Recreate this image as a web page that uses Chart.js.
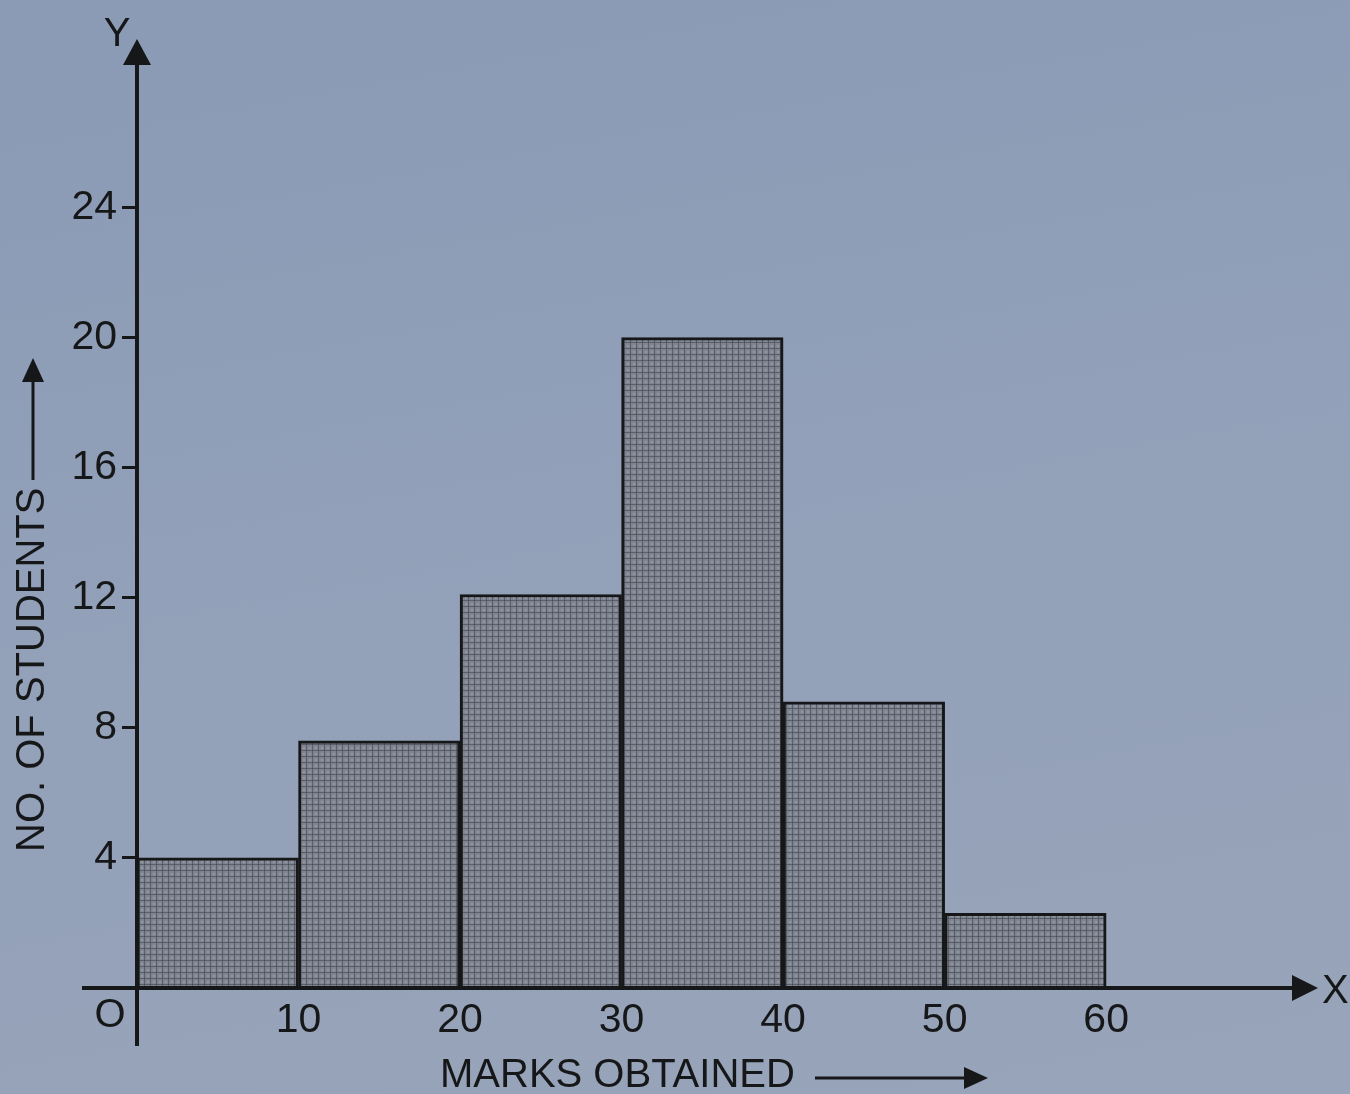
<!DOCTYPE html>
<html>
<head>
<meta charset="utf-8">
<title>Marks obtained histogram</title>
<script src="https://cdn.jsdelivr.net/npm/chart.js@4.4.1/dist/chart.umd.min.js"></script>
<style>
  html, body { margin: 0; padding: 0; }
  body {
    width: 1350px; height: 1094px; overflow: hidden;
    background: linear-gradient(170deg, #8b9ab5 0%, #93a1b9 55%, #98a4b9 100%);
  }
  #wrap { position: relative; width: 1350px; height: 1094px; }
</style>
</head>
<body>
<div id="wrap"><canvas id="hist"></canvas></div>
<script>
// class intervals 0-10 ... 50-60
var classMids = [5, 15, 25, 35, 45, 55];
var students = [4, 7.6, 12.1, 20, 8.8, 2.3];
var xTickLabels = [10, 20, 30, 40, 50, 60];
var yTickLabels = [4, 8, 12, 16, 20, 24];

var INK = '#161718';
var FONT = '"Liberation Sans", Arial, sans-serif';

// little halftone tile so the bars look like the printed screen
function makePattern() {
  var c = document.createElement('canvas');
  c.width = 6; c.height = 6;
  var g = c.getContext('2d');
  g.fillStyle = '#7e8490';
  g.fillRect(0, 0, 6, 6);
  g.fillStyle = 'rgba(55,58,68,0.5)';
  g.fillRect(0, 0, 6, 1);
  g.fillRect(0, 0, 1, 6);
  g.fillStyle = 'rgba(170,176,188,0.45)';
  g.fillRect(3, 3, 2, 2);
  return g.createPattern(c, 'repeat');
}

function arrowHead(ctx, x, y, dir, len, half) {
  ctx.beginPath();
  if (dir === 'up') {
    ctx.moveTo(x, y); ctx.lineTo(x - half, y + len); ctx.lineTo(x + half, y + len);
  } else {
    ctx.moveTo(x, y); ctx.lineTo(x - len, y - half); ctx.lineTo(x - len, y + half);
  }
  ctx.closePath();
  ctx.fill();
}

// axes with arrows, O / X / Y letters and the two axis titles
var axesPlugin = {
  id: 'axesPlugin',
  afterDatasetsDraw: function (chart) {
    var ctx = chart.ctx;
    var xs = chart.scales.x, ys = chart.scales.y;
    var ox = xs.getPixelForValue(0), oy = ys.getPixelForValue(0);
    var area = chart.chartArea;
    ctx.save();
    ctx.strokeStyle = INK;
    ctx.fillStyle = INK;
    ctx.lineWidth = 4;

    // y axis
    ctx.beginPath();
    ctx.moveTo(ox, oy + 58);
    ctx.lineTo(ox, area.top + 18);
    ctx.stroke();
    arrowHead(ctx, ox, area.top - 6, 'up', 26, 14);

    // x axis
    ctx.beginPath();
    ctx.moveTo(ox - 55, oy);
    ctx.lineTo(area.right - 6, oy);
    ctx.stroke();
    arrowHead(ctx, area.right + 18, oy, 'right', 26, 13);

    ctx.font = '40px ' + FONT;
    ctx.textBaseline = 'middle';
    ctx.textAlign = 'center';
    ctx.fillText('O', ox - 27, oy + 28);
    ctx.fillText('Y', ox - 20, area.top - 10);
    ctx.textAlign = 'left';
    ctx.fillText('X', area.right + 22, oy + 4);

    // x title
    ctx.font = '40px ' + FONT;
    ctx.textAlign = 'left';
    ctx.fillText('MARKS OBTAINED', 440, 1076);
    ctx.lineWidth = 3;
    ctx.beginPath();
    ctx.moveTo(815, 1078);
    ctx.lineTo(966, 1078);
    ctx.stroke();
    arrowHead(ctx, 988, 1078, 'right', 24, 11);

    // y title, rotated
    ctx.save();
    ctx.translate(33, 852);
    ctx.rotate(-Math.PI / 2);
    ctx.textAlign = 'left';
    ctx.fillText('NO. OF STUDENTS', 0, 0);
    ctx.beginPath();
    ctx.moveTo(372, 0);
    ctx.lineTo(472, 0);
    ctx.stroke();
    arrowHead(ctx, 494, 0, 'right', 24, 11);
    ctx.restore();

    ctx.restore();
  }
};

var canvas = document.getElementById('hist');
canvas.width = 1350;
canvas.height = 1094;

new Chart(canvas.getContext('2d'), {
  type: 'bar',
  data: {
    datasets: [{
      data: classMids.map(function (m, i) { return { x: m, y: students[i] }; }),
      backgroundColor: makePattern(),
      borderColor: INK,
      borderWidth: 3,
      borderSkipped: 'bottom',
      barPercentage: 1,
      categoryPercentage: 1
    }]
  },
  options: {
    responsive: false,
    animation: false,
    layout: { padding: { top: 45, right: 50, left: 0, bottom: 0 } },
    plugins: { legend: { display: false }, tooltip: { enabled: false } },
    scales: {
      x: {
        type: 'linear',
        offset: false,
        min: 0,
        max: 72,
        afterFit: function (scale) {
          scale.height = 106;
          scale.paddingLeft = 0;
          scale.paddingRight = 0;
        },
        afterBuildTicks: function (scale) {
          scale.ticks = xTickLabels.map(function (v) { return { value: v }; });
        },
        grid: { display: false, offset: false },
        border: { display: false },
        ticks: {
          color: INK,
          font: { family: FONT, size: 41 },
          padding: 0,
          maxRotation: 0,
          autoSkip: false
        }
      },
      y: {
        min: 0,
        max: 29,
        afterFit: function (scale) {
          scale.width = 137;
          scale.paddingTop = 0;
          scale.paddingBottom = 0;
        },
        afterBuildTicks: function (scale) {
          scale.ticks = yTickLabels.map(function (v) { return { value: v }; });
        },
        grid: {
          drawOnChartArea: false,
          drawTicks: true,
          tickLength: 15,
          tickColor: INK,
          tickWidth: 3
        },
        border: { display: false },
        ticks: {
          color: INK,
          font: { family: FONT, size: 41 },
          padding: 5,
          autoSkip: false
        }
      }
    }
  },
  plugins: [axesPlugin]
});
</script>
</body>
</html>
